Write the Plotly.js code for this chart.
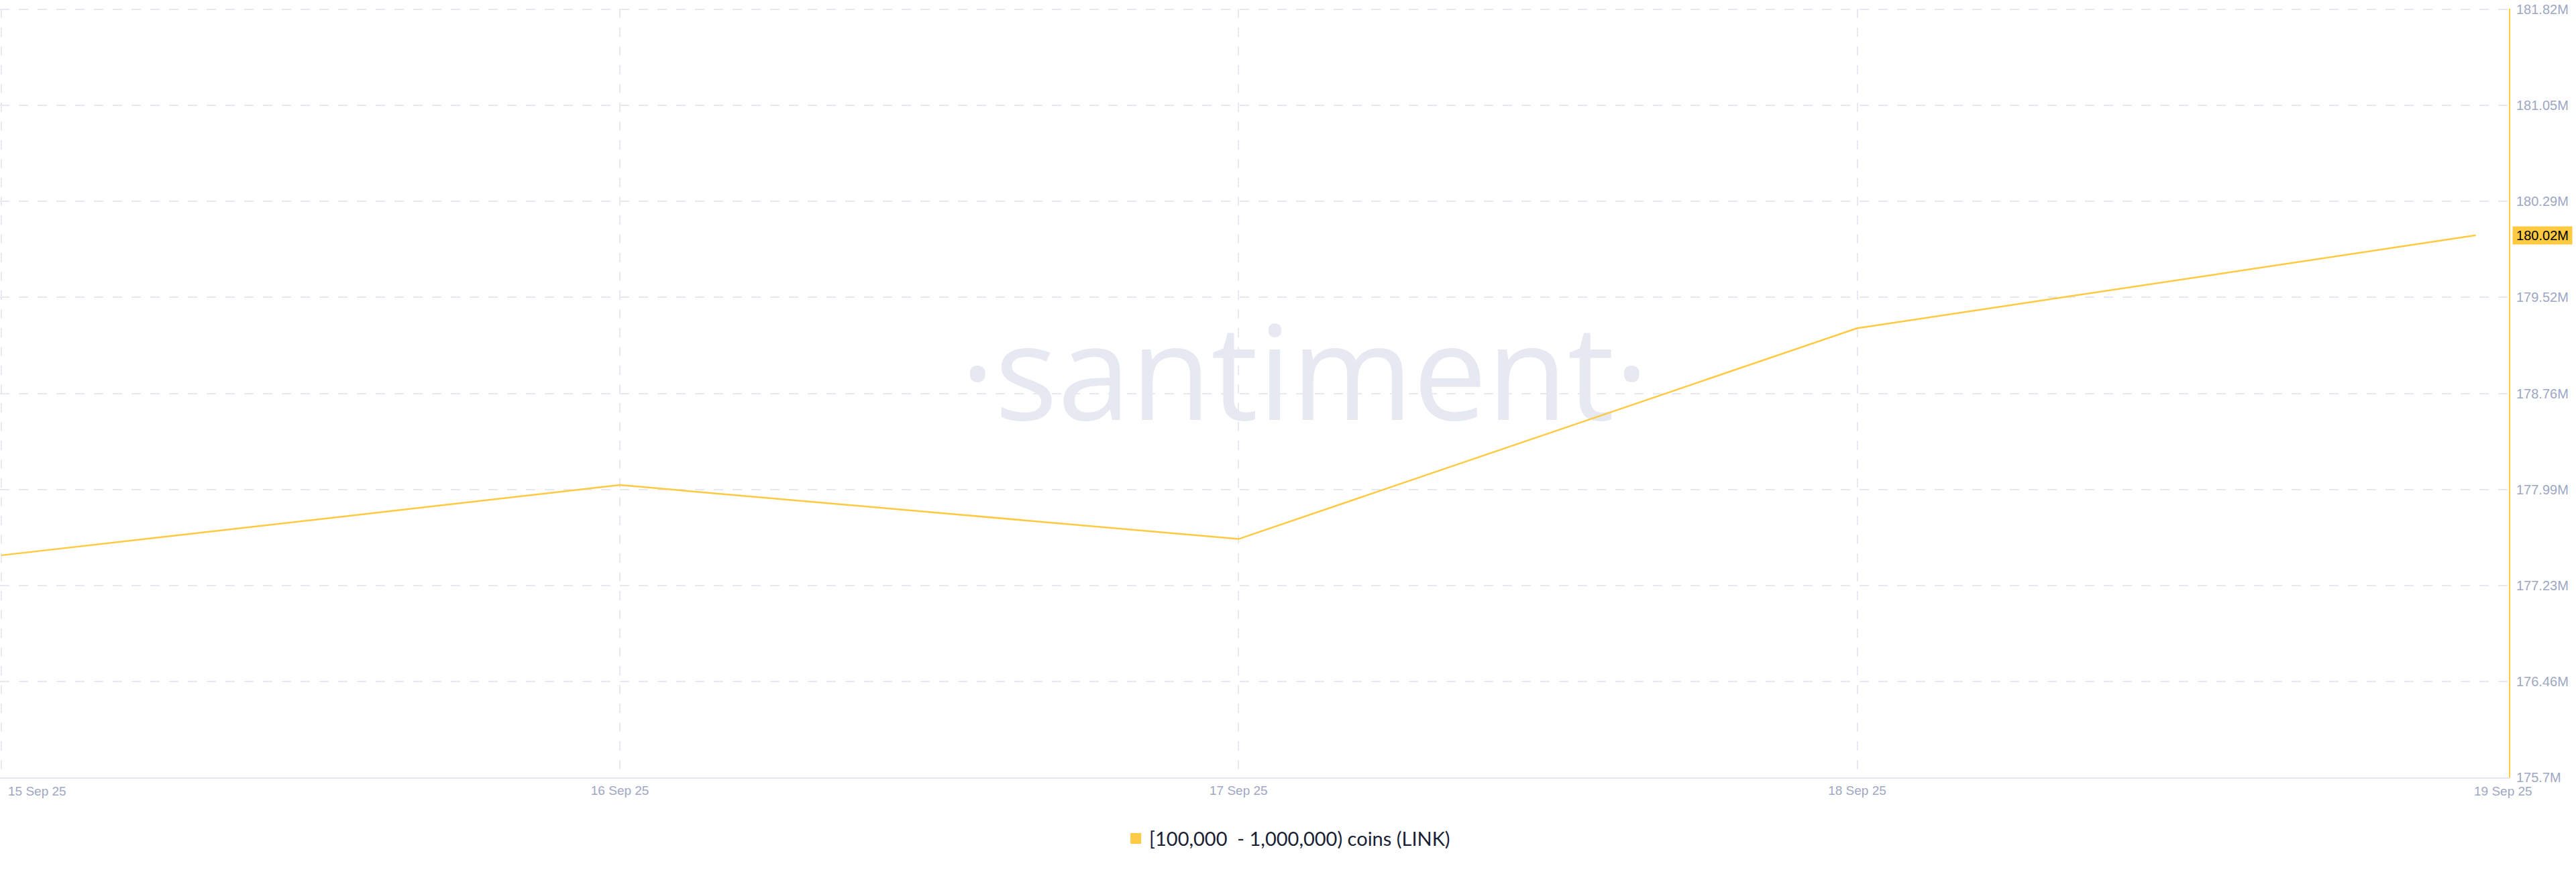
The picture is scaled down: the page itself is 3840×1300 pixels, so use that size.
<!DOCTYPE html>
<html>
<head>
<meta charset="utf-8">
<script src="https://cdn.plot.ly/plotly-3.0.1.min.js"></script>
<style>
  html, body { margin: 0; padding: 0; background: #ffffff; }
  #chart { width: 3840px; height: 1300px; }
</style>
</head>
<body>
<div id="chart"></div>
<script>
// ---- data (values in millions of LINK) ----
const dates = ['2025-09-15', '2025-09-16', '2025-09-17', '2025-09-18', '2025-09-19'];
const holdersM = [177.47, 178.03, 177.60, 179.28, 180.02];
const xTickLabels = ['15 Sep 25', '16 Sep 25', '17 Sep 25', '18 Sep 25', '19 Sep 25'];
const yTickVals = [175.7, 176.465, 177.23, 177.995, 178.76, 179.525, 180.29, 181.055, 181.82];
const yTickText = ['175.7M', '176.46M', '177.23M', '177.99M', '178.76M', '179.52M', '180.29M', '181.05M', '181.82M'];
const seriesName = '[100,000  - 1,000,000) coins (LINK)';
const lastLabel = '180.02M';

const gold = '#ffc940';
const tickColor = '#9ea7c2';
const gridColor = '#e7e9f2';
const tickFontFamily = '"Liberation Sans", Arial, sans-serif';

const traces = [
  {
    type: 'scatter', mode: 'lines',
    x: dates, y: holdersM,
    line: { color: gold, width: 2.5 },
    showlegend: false, hoverinfo: 'skip'
  },
  {
    type: 'scatter', mode: 'markers',
    x: [null], y: [null],
    name: seriesName,
    marker: { symbol: 'square', size: 19, color: '#ffcb47' },
    showlegend: true
  }
];

const layout = {
  width: 3840, height: 1300,
  paper_bgcolor: '#ffffff', plot_bgcolor: '#ffffff',
  margin: { l: 0, r: 100, t: 13, b: 141 },
  hovermode: false,
  showlegend: true,
  legend: {
    orientation: 'h', x: 0.5134, xanchor: 'center', y: -0.0795, yanchor: 'middle',
    font: { family: 'Lato, "Open Sans", sans-serif', size: 29, color: '#1b1f36' },
    bgcolor: 'rgba(0,0,0,0)'
  },
  xaxis: {
    type: 'date',
    range: ['2025-09-14 23:57', '2025-09-19 01:17'],
    tickvals: dates.slice(0, 4),
    ticktext: ['', xTickLabels[1], xTickLabels[2], xTickLabels[3]],
    tickfont: { family: tickFontFamily, size: 19, color: tickColor },
    ticks: '', ticklabelstandoff: 1,
    showgrid: true, gridcolor: gridColor, gridwidth: 2, griddash: '14px,14px',
    showline: true, linecolor: '#e3e7ef', linewidth: 2,
    zeroline: false, fixedrange: true
  },
  yaxis: {
    side: 'right',
    range: [175.7, 181.826],
    tickvals: yTickVals, ticktext: yTickText,
    tickfont: { family: tickFontFamily, size: 20, color: tickColor },
    ticks: '', ticklabelstandoff: 5,
    showgrid: true, gridcolor: gridColor, gridwidth: 2, griddash: '14px,14px',
    showline: true, linecolor: gold, linewidth: 2,
    zeroline: false, fixedrange: true
  },
  shapes: [
    {
      type: 'rect', xref: 'paper', yref: 'paper',
      x0: 0.42, x1: 0.62, y0: 0.42, y1: 0.62,
      line: { width: 0 }, fillcolor: 'rgba(0,0,0,0)', layer: 'below',
      label: {
        text: '·santiment·', textposition: 'middle center',
        font: { family: '"Open Sans", sans-serif', size: 196, color: '#e6e8f2' }
      }
    }
  ],
  annotations: [
    {
      xref: 'x', yref: 'paper', x: dates[0], y: 0,
      text: xTickLabels[0], showarrow: false,
      xanchor: 'left', yanchor: 'top', xshift: 8, yshift: -8,
      font: { family: tickFontFamily, size: 19, color: tickColor }
    },
    {
      xref: 'x', yref: 'paper', x: dates[4], y: 0,
      text: xTickLabels[4], showarrow: false,
      xanchor: 'center', yanchor: 'top', xshift: 41, yshift: -8,
      font: { family: tickFontFamily, size: 19, color: tickColor }
    },
    {
      xref: 'paper', yref: 'y', x: 1, y: holdersM[holdersM.length - 1],
      text: lastLabel, showarrow: false,
      xanchor: 'left', yanchor: 'middle', xshift: 5,
      width: 84, height: 22,
      bgcolor: '#ffc940', borderpad: 2,
      font: { family: tickFontFamily, size: 20, color: '#000000' }
    }
  ]
};

Plotly.newPlot('chart', traces, layout, { displayModeBar: false, staticPlot: true });
</script>
</body>
</html>
